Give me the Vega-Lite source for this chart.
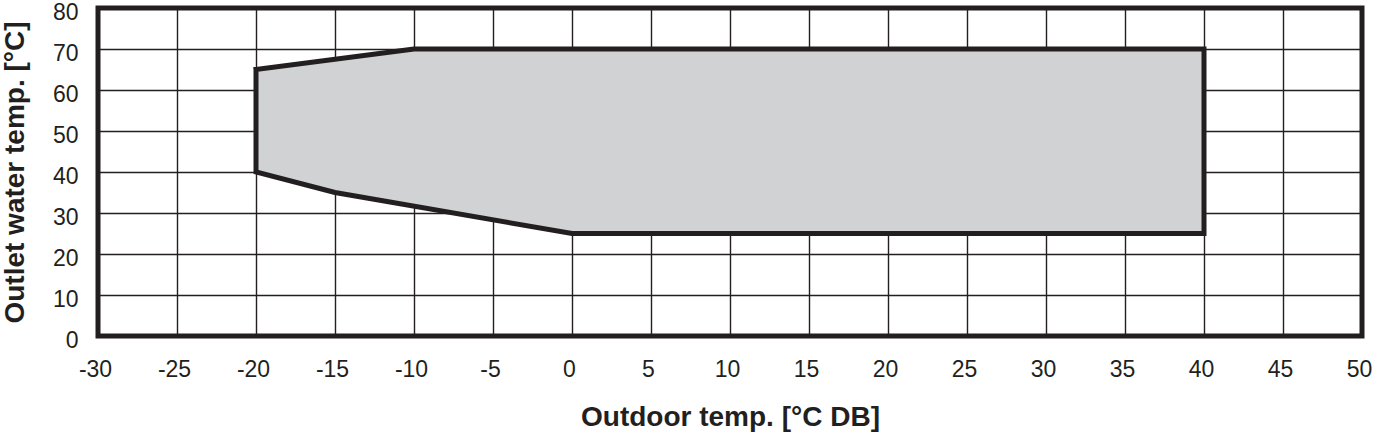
{
  "$schema": "https://vega.github.io/schema/vega-lite/v6.json",
  "width": 1264,
  "height": 328,
  "autosize": "none",
  "padding": {"left": 98, "top": 8, "right": 23, "bottom": 100},
  "background": "white",
  "config": {
    "view": {"stroke": "#231f20", "strokeWidth": 5},
    "axis": {
      "domain": false,
      "ticks": false,
      "grid": true,
      "gridColor": "#231f20",
      "gridWidth": 1.4,
      "gridOpacity": 1,
      "labelFont": "Liberation Sans",
      "labelFontSize": 23,
      "labelColor": "#231f20",
      "titleFont": "Liberation Sans",
      "titleFontSize": 28,
      "titleFontWeight": "bold",
      "titleColor": "#231f20"
    }
  },
  "data": {
    "values": [
      {"i": 0, "t": -20, "w": 65},
      {"i": 1, "t": -10, "w": 70},
      {"i": 2, "t": 40, "w": 70},
      {"i": 3, "t": 40, "w": 25},
      {"i": 4, "t": 0, "w": 25},
      {"i": 5, "t": -15, "w": 35},
      {"i": 6, "t": -20, "w": 40},
      {"i": 7, "t": -20, "w": 65}
    ]
  },
  "mark": {
    "type": "line",
    "fill": "#d1d2d4",
    "stroke": "#231f20",
    "strokeWidth": 5,
    "strokeJoin": "miter",
    "strokeCap": "square"
  },
  "encoding": {
    "x": {
      "field": "t",
      "type": "quantitative",
      "scale": {"domain": [-30, 50], "nice": false, "zero": false},
      "axis": {
        "values": [-30, -25, -20, -15, -10, -5, 0, 5, 10, 15, 20, 25, 30, 35, 40, 45, 50],
        "labelExpr": "'' + datum.value",
        "title": "Outdoor temp. [°C DB]",
        "labelPadding": 22,
        "titlePadding": 22,
        "labelFlush": false,
        "labelOffset": -3
      }
    },
    "y": {
      "field": "w",
      "type": "quantitative",
      "scale": {"domain": [0, 80], "nice": false},
      "axis": {
        "values": [0, 10, 20, 30, 40, 50, 60, 70, 80],
        "title": "Outlet water temp. [°C]",
        "labelPadding": 20,
        "titlePadding": 23,
        "labelFlush": false,
        "labelOffset": 4
      }
    },
    "order": {"field": "i", "type": "quantitative"}
  }
}
